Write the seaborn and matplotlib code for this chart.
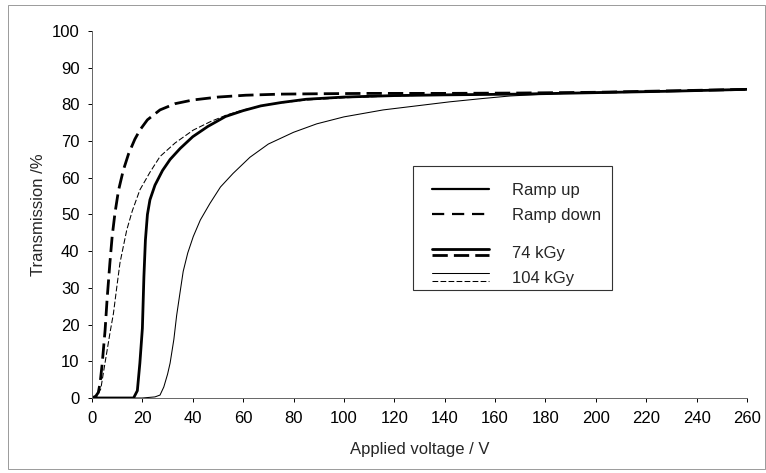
import numpy as np
import pandas as pd
import matplotlib
matplotlib.use('Agg')
import matplotlib.pyplot as plt
import seaborn as sns
from matplotlib.lines import Line2D
from matplotlib.legend_handler import HandlerBase
from matplotlib.patches import Rectangle

# 74 kGy, ramp up (thick solid)
v_74_up = [0, 16.5, 18, 19, 20, 20.6, 21.2, 22, 23, 25, 28, 31, 35, 40, 46, 53, 60, 67, 75, 85,
           100, 120, 140, 170, 200, 230, 260]
t_74_up = [0, 0, 2, 9.5, 19, 33, 43, 50, 54, 58, 62, 65, 68, 71.2, 74, 76.7, 78.3, 79.6, 80.5, 81.4,
           82, 82.4, 82.6, 82.8, 83.2, 83.6, 84.1]

# 74 kGy, ramp down (thick dashed)
v_74_down = [0, 1.5, 2.5, 3.2, 4, 5.2, 6, 7.1, 8, 9.1, 10.5, 12.4, 14.5, 17, 19, 22, 27, 33, 40, 50,
             61, 75, 90, 110, 140, 170, 200, 230, 260]
t_74_down = [0, 0.5, 1.5, 4, 9, 18.5, 27, 36.8, 44, 50.3, 56.5, 62, 66.5, 70.5, 73, 75.8, 78.5, 80.2, 81.2, 82,
             82.5, 82.8, 82.9, 83, 83, 83.1, 83.3, 83.7, 84.1]

# 104 kGy, ramp up (thin solid)
v_104_up = [0, 20, 25, 27, 28.5, 30, 31, 32.5, 33.6, 35, 36.2, 38, 40.2, 43, 46.8, 51, 56, 62.7, 70, 80,
            89.2, 100, 115.6, 130, 142, 155, 166, 180, 200, 230, 260]
t_104_up = [0, 0, 0.3, 0.8, 3, 6.5, 9.5, 16, 22.5, 29, 34.5, 39.5, 44, 48.5, 53, 57.5, 61.2, 65.6, 69.2, 72.4,
            74.7, 76.6, 78.5, 79.7, 80.7, 81.6, 82.3, 82.8, 83.3, 83.7, 84.1]

# 104 kGy, ramp down (thin dashed)
v_104_down = [0, 2, 3.5, 4.5, 6, 7.2, 8.5, 9.8, 11.1, 12.5, 13.8, 16, 19, 23, 27, 33, 40.2, 47, 53.4, 60,
              70, 85, 100, 120, 140, 170, 200, 230, 260]
t_104_down = [0, 0.5, 2.5, 6.8, 13, 18, 23, 30, 36.8, 41.5, 45.8, 51, 56.7, 61.5, 65.8, 69.5, 73, 75.3, 77.1, 78.5,
              80, 81.2, 81.8, 82.3, 82.6, 82.9, 83.3, 83.7, 84.1]

x_ticks = list(range(0, 261, 20))
y_ticks = list(range(0, 101, 10))

sns.set_theme(style='white')
plt.rcParams['font.family'] = ['Liberation Sans', 'DejaVu Sans']

W, H = 766, 473
fig = plt.figure(figsize=(7.66, 4.73), dpi=100)
ax = fig.add_axes([92 / W, 1 - 398 / H, 655 / W, 367 / H])

# faint frame around the whole figure, like the scanned original
fig.patches.append(Rectangle((8 / W, 4 / H), 757 / W, 464 / H, transform=fig.transFigure,
                             fill=False, edgecolor='#9a9a9a', linewidth=0.7))

thick, thin = 2.0, 0.75
dash = (0, (5.5, 2.2))
sns.lineplot(x=v_104_up, y=t_104_up, ax=ax, color='black', linewidth=thin)
sns.lineplot(x=v_104_down, y=t_104_down, ax=ax, color='black', linewidth=thin, linestyle=dash)
sns.lineplot(x=v_74_up, y=t_74_up, ax=ax, color='black', linewidth=thick)
sns.lineplot(x=v_74_down, y=t_74_down, ax=ax, color='black', linewidth=thick, linestyle=dash)

ax.set_xlim(0, 260)
ax.set_ylim(0, 100)
ax.set_xticks(x_ticks)
ax.set_yticks(y_ticks)
ax.tick_params(axis='both', labelsize=12, colors='black', length=3, width=0.7, direction='out',
               bottom=True, left=True, pad=6)
for t in ax.xaxis.get_ticklines() + ax.yaxis.get_ticklines():
    t.set_color('#666666')
ax.spines['top'].set_visible(False)
ax.spines['right'].set_visible(False)
for s in ['left', 'bottom']:
    ax.spines[s].set_color('#666666')
    ax.spines[s].set_linewidth(0.7)
ax.set_xlabel('Applied voltage / V', fontsize=12, labelpad=12)
ax.set_ylabel('Transmission /%', fontsize=12, labelpad=4)


class StackHandler(HandlerBase):
    def __init__(self, lw, gap):
        super().__init__()
        self.lw = lw
        self.gap = gap

    def create_artists(self, legend, orig_handle, xdescent, ydescent, width, height, fontsize, trans):
        yc = height / 2 - ydescent
        top = Line2D([-xdescent, -xdescent + width], [yc + self.gap / 2] * 2, color='black',
                     linewidth=self.lw, transform=trans)
        bot = Line2D([-xdescent, -xdescent + width], [yc - self.gap / 2] * 2, color='black',
                     linewidth=self.lw, linestyle=dash, transform=trans)
        return [top, bot]


h_up = Line2D([], [], color='black', linewidth=1.6)
h_down = Line2D([], [], color='black', linewidth=1.6, linestyle=(0, (5.5, 3.5)))
h_74 = Line2D([], [], color='black')
h_104 = Line2D([], [], color='gray')

# legend frame (drawn inside the axes, under the two frameless legends)
frame = Rectangle((413 / W, 1 - 290 / H), 199 / W, 124 / H, transform=fig.transFigure,
                  facecolor='white', edgecolor='#333333', linewidth=0.8, zorder=4, clip_on=False)
ax.add_artist(frame)

leg_kw = dict(loc='upper left', bbox_transform=fig.transFigure, borderaxespad=0, borderpad=0,
              fontsize=12, frameon=False, handlelength=3.4, handletextpad=1.4, labelspacing=0.6)
leg1 = ax.legend([h_up, h_down], ['Ramp up', 'Ramp down'],
                 bbox_to_anchor=(432 / W, 1 - 183 / H), **leg_kw)
ax.add_artist(leg1)
leg2 = ax.legend([h_74, h_104], ['74 kGy', '104 kGy'],
                 handler_map={h_74: StackHandler(thick, 4.5), h_104: StackHandler(thin, 5.5)},
                 bbox_to_anchor=(432 / W, 1 - 246 / H), **leg_kw)
leg1.set_zorder(5)
leg2.set_zorder(5)

fig.savefig('out.png', dpi=100)
